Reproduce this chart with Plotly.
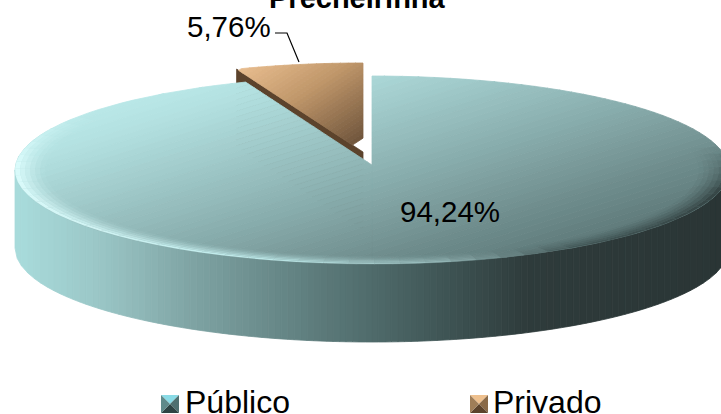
import math
import plotly.graph_objects as go

# ---- data ----
categories = ["Público", "Privado"]
shares = [94.24, 5.76]
labels = ["94,24%", "5,76%"]
title_text = "Precheirinha"

W, H = 721, 414
CX, CY, RX, RY = 372, 170, 357, 94
APEX_Y = 165
DEPTH = 78
EXPLODE = (-9, -13)


def hexrgb(h):
    h = h.lstrip("#")
    return tuple(int(h[i:i + 2], 16) for i in (0, 2, 4))


def ramp(stops, t):
    t = max(0, min(1, t))
    for (a, ca), (b, cb) in zip(stops, stops[1:]):
        if t <= b:
            f = (t - a) / (b - a) if b > a else 0
            x, y = hexrgb(ca), hexrgb(cb)
            return "rgb(%d,%d,%d)" % tuple(round(p + (q - p) * f) for p, q in zip(x, y))
    return "rgb(%d,%d,%d)" % hexrgb(stops[-1][1])


def pt(theta, scale=1.0, dx=0, dy=0):
    return (CX + dx + RX * scale * math.sin(theta), CY + dy - RY * scale * math.cos(theta))


def clip(poly, nx, ny, d, keep_greater=True):
    s = 1 if keep_greater else -1
    out = []
    for i in range(len(poly)):
        a, b = poly[i], poly[(i + 1) % len(poly)]
        fa = s * (a[0] * nx + a[1] * ny - d)
        fb = s * (b[0] * nx + b[1] * ny - d)
        if fa >= 0:
            out.append(a)
        if (fa >= 0) != (fb >= 0):
            u = fa / (fa - fb)
            out.append((a[0] + (b[0] - a[0]) * u, a[1] + (b[1] - a[1]) * u))
    return out


fig = go.Figure()


def add_poly(poly, color, line=True):
    xs = [p[0] for p in poly] + [poly[0][0]]
    ys = [p[1] for p in poly] + [poly[0][1]]
    fig.add_trace(go.Scatter(
        x=xs, y=ys, mode="lines", fill="toself", fillcolor=color,
        line=dict(color=color if line else "rgba(0,0,0,0)", width=0.8 if line else 0),
        hoverinfo="skip", showlegend=False))


def gradient_poly(poly, stops, nx, ny, d0, d1, n):
    for i in range(n):
        a = d0 + (d1 - d0) * i / n
        b = d0 + (d1 - d0) * (i + 1) / n
        p = clip(clip(poly, nx, ny, a, True), nx, ny, b, False)
        if len(p) >= 3:
            add_poly(p, ramp(stops, (i + .5) / n))


priv_sweep = shares[1] / sum(shares) * 2 * math.pi
pub_sweep = shares[0] / sum(shares) * 2 * math.pi

# ---- exploded private slice ----
dx, dy = EXPLODE
priv_arc = [pt(-priv_sweep * i / 24, 1, dx, dy) for i in range(25)]
priv_apex = (CX + dx, APEX_Y + dy)
lft, rgt = priv_arc[-1], priv_arc[0]
add_poly([lft, priv_apex, (priv_apex[0], priv_apex[1] + DEPTH), (lft[0], lft[1] + DEPTH)], "#5c432c")
gradient_poly(priv_arc + [priv_apex],
              [(0, "#e8bc8e"), (.45, "#bf9669"), (1, "#70553c")],
              .55, .835, 190, 315, 30)

# ---- side wall of the public slice ----
side_stops = [(0, "#a9dcdc"), (.12, "#9ac6c6"), (.25, "#7ea3a3"), (.42, "#5d7c7c"),
              (.6, "#3f5555"), (.72, "#2e3b3b"), (1, "#2a3535")]
N_SIDE = 110
x0, x1 = CX - RX, CX + RX
for i in range(N_SIDE):
    xa = x0 + (x1 - x0) * i / N_SIDE
    xb = x0 + (x1 - x0) * (i + 1) / N_SIDE
    poly = []
    steps = 3
    for k in range(steps + 1):
        x = xa + (xb - xa) * k / steps
        u = max(0, 1 - ((x - CX) / RX) ** 2)
        poly.append((x, CY + RY * math.sqrt(u)))
    for k in range(steps, -1, -1):
        x = xa + (xb - xa) * k / steps
        u = max(0, 1 - ((x - CX) / RX) ** 2)
        poly.append((x, CY + RY * math.sqrt(u) + DEPTH))
    add_poly(poly, ramp(side_stops, (i + .5) / N_SIDE))

# ---- top face of the public slice (two convex parts) ----
pub_apex = (CX, APEX_Y)
face_stops = [(0, "#c0eeee"), (.18, "#b4e2e2"), (.545, "#8bb0b0"), (.79, "#6e8c8c"), (1, "#587272")]
right_half = [pt(math.pi * i / 90) for i in range(91)]
left_part = [pt(math.pi + (pub_sweep - math.pi) * i / 60) for i in range(61)]
for part in (right_half, left_part):
    gradient_poly(part + [pub_apex], face_stops, .3, .954, 100, 430, 60)


# ---- bevel around the outer rim ----
def rim_colour(x):
    return ramp([(0, "#e0ffff"), (.35, "#c8f6f6"), (.6, "#98baba"), (.78, "#3f5353"), (1, "#2d3a3a")],
                (x - x0) / (x1 - x0))


def to_rgba(c, a):
    return c.replace("rgb(", "rgba(").replace(")", ",%.3f)" % a)


N_RINGS = 6
N_RIM = 56
start = math.pi / 2 - 0.25
end = 2 * math.pi - 0.9
for r in range(N_RINGS):
    s_out = 1 - .014 * r
    s_in = 1 - .014 * (r + 1)
    base = .85 * (1 - r / N_RINGS) ** 1.5
    for i in range(N_RIM):
        a = start + (end - start) * i / N_RIM
        b = start + (end - start) * (i + 1) / N_RIM
        m = (a + b) / 2
        fade = min(1, (m - start) / .5, (end - m) / .6)
        ring = [pt(a, s_out), pt(b, s_out), pt(b, s_in), pt(a, s_in)]
        add_poly(ring, to_rgba(rim_colour(pt(m)[0]), base * fade), line=False)

# ---- leader line ----
fig.add_trace(go.Scatter(x=[275, 287, 299], y=[33, 33, 62], mode="lines",
                         line=dict(color="#000000", width=1.2),
                         hoverinfo="skip", showlegend=False))


# ---- legend keys ----
def key(x, y, s, cols):
    c = (x + s / 2, y + s / 2)
    corners = [(x, y), (x + s, y), (x + s, y + s), (x, y + s)]
    for i in range(4):
        add_poly([corners[i], corners[(i + 1) % 4], c], cols[i], line=False)


key(161, 395, 18, ["#8adbe6", "#4f7070", "#2e4444", "#5f8a8a"])
key(470, 395, 18, ["#eec08e", "#8a6a48", "#5c432c", "#a07e58"])

FONT = "Liberation Sans, Arial, sans-serif"
ann = [
    dict(x=357, y=0, text=title_text, size=29, bold=True, up=2),
    dict(x=229, y=26, text=labels[1], size=29.5),
    dict(x=450, y=211, text=labels[0], size=29.5),
    dict(x=237, y=402, text=categories[0], size=32),
    dict(x=547, y=402, text=categories[1], size=32),
]
annotations = [
    dict(x=a["x"], y=a["y"], xref="x", yref="y", showarrow=False, xanchor="center", yanchor="middle",
         yshift=a.get("up", 0),
         text=("<b>%s</b>" % a["text"]) if a.get("bold") else a["text"],
         font=dict(family=FONT, size=a["size"], color="#000000"))
    for a in ann
]

fig.update_layout(
    width=W, height=H, margin=dict(l=0, r=0, t=0, b=0),
    paper_bgcolor="#ffffff", plot_bgcolor="#ffffff", showlegend=False,
    xaxis=dict(range=[0, W], visible=False, fixedrange=True),
    yaxis=dict(range=[H, 0], visible=False, fixedrange=True),
    annotations=annotations,
)
fig.write_html("out.html", config={"displayModeBar": False},
               post_script="document.body.style.margin='0';document.body.style.overflow='hidden';")
